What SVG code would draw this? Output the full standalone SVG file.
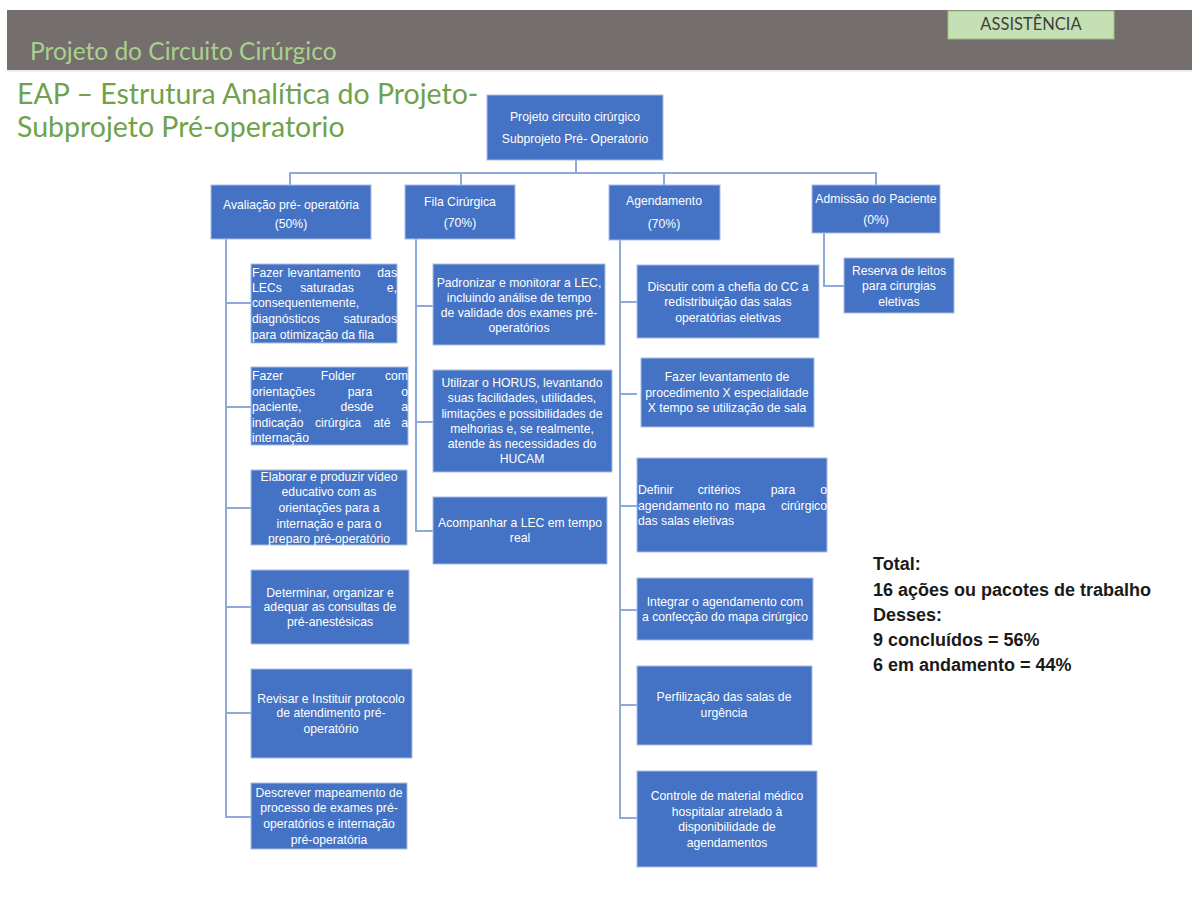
<svg xmlns="http://www.w3.org/2000/svg" width="1192" height="923" viewBox="0 0 1192 923">
<style>
.box{fill:#4472c4;stroke:#a9bde3;stroke-width:1}
.t{font-family:"Liberation Sans",Arial,sans-serif;font-size:12.2px;fill:#ffffff}
.c{text-anchor:middle}
.e{text-anchor:end}
.con{fill:none;stroke:#8eaadb;stroke-width:2}
.tot{font-family:"Liberation Sans",Arial,sans-serif;font-size:18px;font-weight:bold;fill:#1a1a1a}
</style>
<rect x="0" y="0" width="1192" height="923" fill="#ffffff"/>
<g id="header">
<rect x="7" y="10" width="1185" height="60" fill="#746f6d"/>
<line x1="7" y1="71" x2="1192" y2="71" stroke="#d9d9d9" stroke-width="1"/>
<text x="30" y="60" font-family="Lato,'Liberation Sans',sans-serif" font-size="24.5" fill="#a9d18e">Projeto do Circuito Cirúrgico</text>
<rect x="948" y="11" width="166" height="28" fill="#c5e0b4" stroke="#93c47d" stroke-width="1"/>
<text x="1031" y="30" text-anchor="middle" font-family="Lato,'Liberation Sans',sans-serif" font-size="16.5" fill="#404040">ASSISTÊNCIA</text>
</g>
<g id="title">
<text x="17" y="104" font-family="Lato,'Liberation Sans',sans-serif" font-size="28.5" fill="#6fa24b">EAP – Estrutura Analítica do Projeto-</text>
<text x="17" y="137" font-family="Lato,'Liberation Sans',sans-serif" font-size="28.5" fill="#6fa24b">Subprojeto Pré-operatorio</text>
</g>
<g id="connectors">
<path class="con" d="M576 160V173M290 185V173H876V185M461 173V185M664 173V185"/>
<path class="con" d="M226 239V817H251M226 303H251M226 407H251M226 508H251M226 607H251M226 713H251"/>
<path class="con" d="M416 239V531H433M416 306H433M416 422H433"/>
<path class="con" d="M620 240V818H637M620 302H637M620 394H637M620 506H637M620 610H637M620 705H637"/>
<path class="con" d="M824 233V286H844"/>
</g>
<g id="root">
<rect class="box" x="487" y="95" width="176" height="65"/>
<text class="t c" x="575" y="121">Projeto circuito cirúrgico</text>
<text class="t c" x="575" y="143">Subprojeto Pré- Operatorio</text>
</g>
<g id="avaliacao">
<rect class="box" x="211" y="185" width="160" height="54"/>
<text class="t c" x="291" y="209">Avaliação pré- operatória</text>
<text class="t c" x="291" y="228">(50%)</text>
</g>
<g id="fila">
<rect class="box" x="405" y="185" width="110" height="54"/>
<text class="t c" x="460" y="206">Fila Cirúrgica</text>
<text class="t c" x="460" y="227">(70%)</text>
</g>
<g id="agendamento">
<rect class="box" x="609" y="185" width="111" height="55"/>
<text class="t c" x="664" y="205">Agendamento</text>
<text class="t c" x="664" y="228">(70%)</text>
</g>
<g id="admissao">
<rect class="box" x="812" y="185" width="128" height="48"/>
<text class="t c" x="876" y="203">Admissão do Paciente</text>
<text class="t c" x="876" y="224">(0%)</text>
</g>
<g id="a1">
<rect class="box" x="251" y="264" width="146" height="79"/>
<text class="t" x="252" y="277">Fazer</text><text class="t c" x="324" y="277">levantamento</text><text class="t e" x="397" y="277">das</text>
<text class="t" x="252" y="292">LECs</text><text class="t c" x="327" y="292">saturadas</text><text class="t e" x="397" y="292">e,</text>
<text class="t" x="252" y="307">consequentemente,</text>
<text class="t" x="252" y="323">diagnósticos</text><text class="t e" x="397" y="323">saturados</text>
<text class="t" x="252" y="339">para otimização da fila</text>
</g>
<g id="a2">
<rect class="box" x="251" y="367" width="157" height="78"/>
<text class="t" x="252" y="380">Fazer</text><text class="t c" x="338" y="380">Folder</text><text class="t e" x="408" y="380">com</text>
<text class="t" x="252" y="396">orientações</text><text class="t c" x="360" y="396">para</text><text class="t e" x="408" y="396">o</text>
<text class="t" x="252" y="411">paciente,</text><text class="t c" x="357" y="411">desde</text><text class="t e" x="408" y="411">a</text>
<text class="t" x="252" y="427">indicação</text><text class="t c" x="338" y="427">cirúrgica</text><text class="t c" x="382" y="427">até</text><text class="t e" x="408" y="427">a</text>
<text class="t" x="252" y="442">internação</text>
</g>
<g id="a3">
<rect class="box" x="251" y="470" width="156" height="75"/>
<text class="t c" x="329" y="481">Elaborar e produzir vídeo</text>
<text class="t c" x="329" y="496">educativo com as</text>
<text class="t c" x="329" y="512">orientações para a</text>
<text class="t c" x="329" y="528">internação e para o</text>
<text class="t c" x="329" y="543">preparo pré-operatório</text>
</g>
<g id="a4">
<rect class="box" x="251" y="570" width="158" height="74"/>
<text class="t c" x="330" y="597">Determinar, organizar e</text>
<text class="t c" x="330" y="611">adequar as  consultas de</text>
<text class="t c" x="330" y="626">pré-anestésicas</text>
</g>
<g id="a5">
<rect class="box" x="251" y="669" width="161" height="89"/>
<text class="t c" x="331" y="703">Revisar e Instituir protocolo</text>
<text class="t c" x="331" y="717">de atendimento pré-</text>
<text class="t c" x="331" y="733">operatório</text>
</g>
<g id="a6">
<rect class="box" x="251" y="783" width="156" height="66"/>
<text class="t c" x="329" y="797">Descrever mapeamento de</text>
<text class="t c" x="329" y="812">processo de exames pré-</text>
<text class="t c" x="329" y="828">operatórios e internação</text>
<text class="t c" x="329" y="844">pré-operatória</text>
</g>
<g id="f1">
<rect class="box" x="433" y="264" width="172" height="81"/>
<text class="t c" x="519" y="287">Padronizar e monitorar a LEC,</text>
<text class="t c" x="519" y="302">incluindo análise de tempo</text>
<text class="t c" x="519" y="317">de validade dos exames pré-</text>
<text class="t c" x="519" y="332">operatórios</text>
</g>
<g id="f2">
<rect class="box" x="433" y="370" width="179" height="102"/>
<text class="t c" x="522" y="387">Utilizar o HORUS, levantando</text>
<text class="t c" x="522" y="402">suas  facilidades, utilidades,</text>
<text class="t c" x="522" y="418">limitações e possibilidades de</text>
<text class="t c" x="522" y="433">melhorias e, se realmente,</text>
<text class="t c" x="522" y="448">atende às necessidades do</text>
<text class="t c" x="522" y="463">HUCAM</text>
</g>
<g id="f3">
<rect class="box" x="433" y="497" width="174" height="67"/>
<text class="t c" x="520" y="527">Acompanhar a LEC em tempo</text>
<text class="t c" x="520" y="542">real</text>
</g>
<g id="g1">
<rect class="box" x="637" y="265" width="182" height="73"/>
<text class="t c" x="728" y="291">Discutir com a chefia do CC a</text>
<text class="t c" x="728" y="306">redistribuição das salas</text>
<text class="t c" x="728" y="322">operatórias eletivas</text>
</g>
<g id="g2">
<rect class="box" x="641" y="358" width="173" height="69"/>
<text class="t c" x="727" y="381">Fazer levantamento de</text>
<text class="t c" x="727" y="397">procedimento X especialidade</text>
<text class="t c" x="727" y="412">X tempo se utilização  de sala</text>
</g>
<g id="g3">
<rect class="box" x="637" y="458" width="190" height="94"/>
<text class="t" x="638" y="494">Definir</text><text class="t c" x="719" y="494">critérios</text><text class="t c" x="783" y="494">para</text><text class="t e" x="827" y="494">o</text>
<text class="t" x="638" y="510">agendamento</text><text class="t c" x="722" y="510">no</text><text class="t c" x="750" y="510">mapa</text><text class="t e" x="827" y="510">cirúrgico</text>
<text class="t" x="638" y="525">das salas eletivas</text>
</g>
<g id="g4">
<rect class="box" x="637" y="578" width="176" height="62"/>
<text class="t c" x="725" y="606">Integrar o agendamento com</text>
<text class="t c" x="725" y="621">a confecção do mapa cirúrgico</text>
</g>
<g id="g5">
<rect class="box" x="637" y="666" width="175" height="79"/>
<text class="t c" x="724" y="701">Perfilização das salas de</text>
<text class="t c" x="724" y="717">urgência</text>
</g>
<g id="g6">
<rect class="box" x="637" y="771" width="180" height="96"/>
<text class="t c" x="727" y="800">Controle de material médico</text>
<text class="t c" x="727" y="816">hospitalar atrelado à</text>
<text class="t c" x="727" y="831">disponibilidade de</text>
<text class="t c" x="727" y="847">agendamentos</text>
</g>
<g id="d1">
<rect class="box" x="844" y="258" width="110" height="55"/>
<text class="t c" x="899" y="275">Reserva de leitos</text>
<text class="t c" x="899" y="290">para cirurgias</text>
<text class="t c" x="899" y="306">eletivas</text>
</g>
<g id="total">
<text class="tot" x="873" y="570">Total:</text>
<text class="tot" x="873" y="596">16 ações ou pacotes de trabalho</text>
<text class="tot" x="873" y="621">Desses:</text>
<text class="tot" x="873" y="646">9 concluídos = 56%</text>
<text class="tot" x="873" y="671">6 em andamento = 44%</text>
</g>
</svg>
